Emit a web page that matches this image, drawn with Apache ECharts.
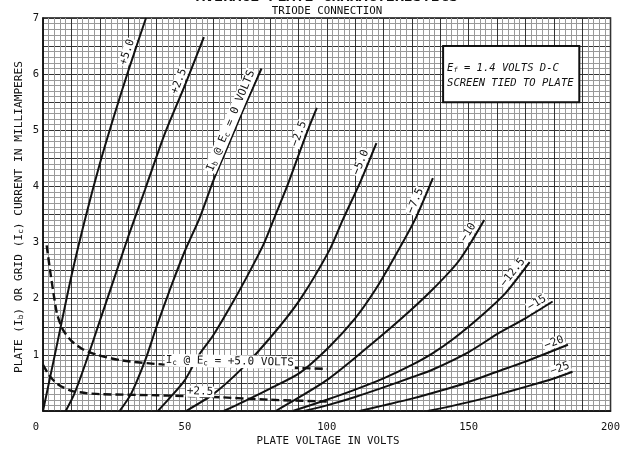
<!DOCTYPE html>
<html><head><meta charset="utf-8">
<script src="https://cdn.jsdelivr.net/npm/echarts@6/dist/echarts.min.js"></script>
<style>html,body{margin:0;padding:0;background:#fff}#c{width:623px;height:450px}</style>
</head><body><div id="c"></div>
<script>
// ---------- text ----------
const titleText = 'AVERAGE PLATE CHARACTERISTICS';
const subtitleText = 'TRIODE CONNECTION';
const xAxisName = 'PLATE VOLTAGE IN VOLTS';
const yAxisName = '{n|PLATE (I}{s|b}{n|) OR GRID (I}{s|c}{n|) CURRENT IN MILLIAMPERES}';
const xTickLabels = [0, 50, 100, 150, 200];
const yTickLabels = [1, 2, 3, 4, 5, 6, 7];
const noteLines = ['{n|E}{s|f}{n| = 1.4 VOLTS D-C}', '{n|SCREEN TIED TO PLATE}'];

// ---------- plate current curves  [plate volts, mA] ----------
const ibP50 = [[0,0],[5,1.2],[10,2.4],[15,3.45],[20,4.4],[25,5.25],[30,6.05],[36.3,7.0]];
const ibP25 = [[8,0],[11,0.3],[15,0.85],[20,1.6],[25,2.35],[30,3.1],[36,3.95],[43,4.95],[50,5.8],[56.7,6.66]];
const ib0   = [[27,0],[31,0.3],[36,0.9],[40,1.5],[45,2.2],[50,2.85],[55.3,3.45],[60,4.1],[65,4.7],[70,5.3],[77,6.1]];
const ibM25 = [[40.5,0],[45,0.25],[50,0.55],[55,1.0],[60,1.35],[67.6,2.0],[73,2.5],[78,3.0],[82,3.5],[86,4.0],[90,4.55],[93.3,5.0],[96.5,5.4]];
const ibM50 = [[50.4,0],[60,0.3],[70,0.75],[80,1.3],[90.5,1.98],[101,2.87],[105.6,3.4],[112,4.1],[117.5,4.77]];
const ibM75 = [[63.7,0],[70,0.15],[80,0.4],[90.5,0.68],[101,1.15],[110,1.65],[117,2.15],[123.3,2.69],[131,3.4],[137.4,4.15]];
const ibM10 = [[82,0],[90.5,0.25],[100,0.55],[110,0.95],[125.7,1.62],[137,2.15],[146.8,2.69],[155.5,3.4]];
const ibM125 = [[88,0],[100,0.2],[110,0.38],[120,0.58],[130,0.82],[137.4,1.03],[145,1.3],[155,1.72],[163,2.1],[171.5,2.65]];
const ibM15 = [[92,0],[100,0.1],[110,0.25],[120,0.42],[130,0.6],[137,0.73],[150,1.05],[161,1.4],[170,1.65],[179.6,1.95]];
const ibM20 = [[111.6,0],[120,0.1],[130,0.22],[140,0.36],[149,0.5],[160,0.7],[170,0.88],[185,1.18]];
const ibM25v = [[135.6,0],[145,0.1],[155,0.22],[161,0.3],[170,0.43],[180,0.58],[186.6,0.7]];
// ---------- grid current curves ----------
const icP50 = [[1.3,2.95],[2.5,2.5],[4,2.0],[5,1.72],[7,1.45],[10,1.25],[14,1.1],[19,1.0],[28,0.9],[42,0.83],[60,0.8],[80,0.78],[100,0.75]];
const icP25 = [[0,0.82],[2,0.65],[4,0.53],[6,0.45],[10,0.36],[15,0.32],[20,0.3],[40,0.28],[60,0.25],[80,0.2],[100,0.17]];

const plateCurves = [ibP50, ibP25, ib0, ibM25, ibM50, ibM75, ibM10, ibM125, ibM15, ibM20, ibM25v];
const plateLabels = ['+5.0', '+2.5', '{n|I}{s|b}{n| @ E}{s|c}{n| = 0 VOLTS}', '−2.5', '−5.0', '−7.5', '−10', '−12.5', '−15', '−20', '−25'];
const gridCurves = [icP50, icP25];
const gridLabels = ['{n|I}{s|c}{n| @ E}{s|c}{n| = +5.0 VOLTS}', '+2.5'];

// ---------- annotation placement (plate volts along each curve) ----------
const plateLabelAt = [32, 50.2, 68.5, 92.5, 114.3, 133.5, 152, 167.5, 175.4, 181, 183];
const gridLabelAt = [65.8, 55.3];

const FONT = '"DejaVu Sans Mono", monospace';
const INK = '#111';

const chart = echarts.init(document.getElementById('c'), null, {renderer: 'canvas'});

const series = [];
plateCurves.forEach(d => series.push({
  type: 'line', data: d, symbol: 'none', smooth: 0.25,
  lineStyle: {color: INK, width: 2}, z: 5, silent: true
}));
gridCurves.forEach(d => series.push({
  type: 'line', data: d, symbol: 'none', smooth: 0.25,
  lineStyle: {color: INK, width: 2.4, type: [8, 4]}, z: 5, silent: true
}));

chart.setOption({
  animation: false,
  backgroundColor: '#fff',
  grid: {left: 43, right: 12, top: 18, bottom: 39, show: true, borderColor: INK, borderWidth: 1.5},
  xAxis: {
    type: 'value', min: 0, max: 200, interval: 10,
    axisLine: {show: true, lineStyle: {color: INK, width: 1.5}},
    axisTick: {show: false},
    axisLabel: {
      margin: 11, color: INK, fontFamily: FONT, fontSize: 10.5,
      formatter: v => xTickLabels.indexOf(v) < 0 ? '' : (v === 0 ? '{o|0}' : String(v)),
      rich: {o: {fontFamily: FONT, fontSize: 10.5, color: INK, padding: [0, 14, 0, 0]}}
    },
    splitLine: {show: true, lineStyle: {color: '#333', width: 1}},
    minorTick: {show: false, splitNumber: 5},
    minorSplitLine: {show: true, lineStyle: {color: '#999', width: 1}}
  },
  yAxis: {
    type: 'value', min: 0, max: 7, interval: 0.5,
    axisLine: {show: true, lineStyle: {color: INK, width: 1.5}},
    axisTick: {show: false},
    axisLabel: {
      margin: 4, color: INK, fontFamily: FONT, fontSize: 10.5,
      formatter: v => yTickLabels.indexOf(v) < 0 ? '' : String(v)
    },
    splitLine: {show: true, lineStyle: {color: '#333', width: 1}},
    minorTick: {show: false, splitNumber: 5},
    minorSplitLine: {show: true, lineStyle: {color: '#999', width: 1}}
  },
  series: series
});

function interp(d, v) {
  if (v <= d[0][0]) return d[0][1];
  for (let i = 0; i < d.length - 1; i++) {
    if (v >= d[i][0] && v <= d[i + 1][0]) {
      const t = (v - d[i][0]) / (d[i + 1][0] - d[i][0]);
      return d[i][1] + t * (d[i + 1][1] - d[i][1]);
    }
  }
  return d[d.length - 1][1];
}
const px = p => chart.convertToPixel({gridIndex: 0}, p);
const rich = {
  n: {fontFamily: FONT, fontSize: 11, fill: INK},
  s: {fontFamily: FONT, fontSize: 7.5, fill: INK, padding: [5, 0, 0, 0]}
};

function curveLabel(d, v, text, off) {
  const p = px([v, interp(d, v)]);
  const a = px([v - 1.5, interp(d, v - 1.5)]);
  const b = px([v + 1.5, interp(d, v + 1.5)]);
  const th = Math.atan2(-(b[1] - a[1]), b[0] - a[0]);
  const cx = p[0] - off * Math.sin(th), cy = p[1] - off * Math.cos(th);
  return {
    type: 'text', x: cx, y: cy, rotation: th, z: 100,
    style: {text: text, rich: rich, fontFamily: FONT, fontSize: 11, fill: INK,
      align: 'center', verticalAlign: 'middle', backgroundColor: '#fff', padding: [0, 1]}
  };
}

const graphics = [];
plateCurves.forEach((d, i) => graphics.push(curveLabel(d, plateLabelAt[i], plateLabels[i], 7)));
gridCurves.forEach((d, i) => graphics.push(curveLabel(d, gridLabelAt[i], gridLabels[i], 5)));

// note box
const b1 = px([141, 6.5]), b2 = px([189, 5.5]);
graphics.push({type: 'rect', z: 100, shape: {x: b1[0], y: b1[1], width: b2[0] - b1[0], height: b2[1] - b1[1]},
  style: {fill: '#fff', stroke: INK, lineWidth: 2}});
const italicRich = {
  n: {fontFamily: FONT, fontSize: 10.5, fontStyle: 'italic', fill: INK},
  s: {fontFamily: FONT, fontSize: 7, fontStyle: 'italic', fill: INK, padding: [5, 0, 0, 0]}
};
noteLines.forEach((t, i) => graphics.push({type: 'text', z: 101, x: b1[0] + 4, y: b1[1] + 22 + i * 15,
  style: {text: t, rich: italicRich, align: 'left', verticalAlign: 'middle'}}));

// titles and axis names
graphics.push({type: 'text', z: 101, x: 327, y: 5, style: {text: titleText, fontFamily: FONT, fontWeight: 'bold',
  fontSize: 15, fill: INK, align: 'center', verticalAlign: 'bottom'}});
graphics.push({type: 'text', z: 101, x: 327, y: 11, style: {text: subtitleText, fontFamily: FONT,
  fontSize: 10.8, fill: INK, align: 'center', verticalAlign: 'middle'}});
graphics.push({type: 'text', z: 101, x: 328, y: 441, style: {text: xAxisName, fontFamily: FONT,
  fontSize: 10.8, fill: INK, align: 'center', verticalAlign: 'middle'}});
graphics.push({type: 'text', z: 101, x: 19, y: 217, rotation: Math.PI / 2, style: {text: yAxisName,
  rich: {n: {fontFamily: FONT, fontSize: 11.2, fill: INK}, s: {fontFamily: FONT, fontSize: 7.5, fill: INK, padding: [5, 0, 0, 0]}},
  align: 'center', verticalAlign: 'middle'}});

chart.setOption({graphic: graphics});
</script>
</body></html>
